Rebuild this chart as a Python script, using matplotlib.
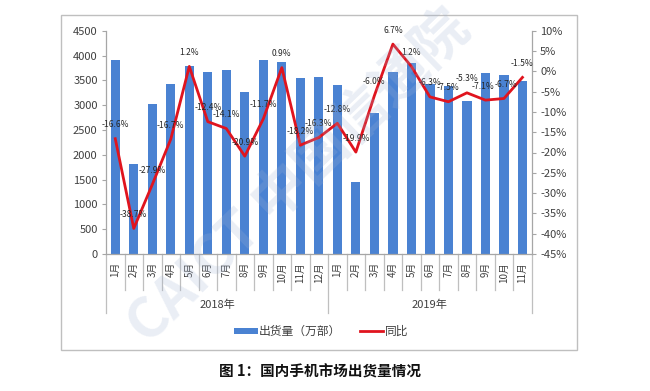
import matplotlib
matplotlib.use("Agg")
import matplotlib.pyplot as plt
from matplotlib.patches import Patch, Rectangle
from matplotlib.lines import Line2D
import matplotlib.transforms as mtransforms

plt.rcParams['font.family'] = ['Noto Sans CJK SC', 'DejaVu Sans']

months = ["1月", "2月", "3月", "4月", "5月", "6月", "7月", "8月", "9月", "10月", "11月", "12月",
          "1月", "2月", "3月", "4月", "5月", "6月", "7月", "8月", "9月", "10月", "11月"]
years = ["2018年", "2019年"]
year_counts = [12, 11]
shipments = [3900, 1810, 3020, 3420, 3790, 3670, 3700, 3270, 3900, 3860, 3540, 3570,
             3410, 1450, 2850, 3660, 3840, 3420, 3390, 3090, 3640, 3600, 3490]
yoy = [-16.6, -38.7, -27.9, -16.7, 1.2, -12.4, -14.1, -20.9, -11.7, 0.9, -18.2, -16.3,
       -12.8, -19.9, -6.0, 6.7, 1.2, -6.3, -7.5, -5.3, -7.1, -6.7, -1.5]
left_ticks = [0, 500, 1000, 1500, 2000, 2500, 3000, 3500, 4000, 4500]
right_ticks = [-45, -40, -35, -30, -25, -20, -15, -10, -5, 0, 5, 10]

bar_color = '#4A82D2'
line_color = '#E0141E'
axis_color = '#A6A6A6'
text_color = '#404040'

fig = plt.figure(figsize=(6.5, 3.91), dpi=100)
fig.patch.set_facecolor('white')

# outer chart frame
fig.patches.append(Rectangle((61/650, 1-350/391), 516/650, 335/391, transform=fig.transFigure,
                             fill=False, edgecolor='#BFBFBF', linewidth=1.0, zorder=0))

ax = fig.add_axes([106/650, 1-254/391, (531.7-106)/650, (254-30.7)/391])
ax2 = ax.twinx()

x = list(range(len(shipments)))
ax.bar(x, shipments, width=0.5, color=bar_color, zorder=2)
ax.set_xlim(-0.5, len(x) - 0.5)
ax.set_ylim(0, 4500)
ax.set_yticks(left_ticks)
ax.set_yticklabels([str(t) for t in left_ticks], fontsize=8, color=text_color)
ax.set_xticks([])

ax2.plot(x, yoy, color=line_color, linewidth=2.0, zorder=3)
ax2.set_ylim(-45, 10)
ax2.set_yticks(right_ticks)
ax2.set_yticklabels([f"{t}%" for t in right_ticks], fontsize=8, color=text_color)
for xi, v in zip(x, yoy):
    dx = -1.5 if xi == 20 else (1.5 if xi == 21 else 0)
    ax2.annotate(f"{v:.1f}%", (xi, v), xytext=(dx, 10), textcoords='offset points',
                 ha='center', va='center', fontsize=6.1, color='#262626', zorder=4)

for a in (ax, ax2):
    a.spines['top'].set_visible(False)
    for s in ('left', 'right', 'bottom'):
        a.spines[s].set_color(axis_color)
        a.spines[s].set_linewidth(0.9)
    a.tick_params(axis='y', length=3, width=0.8, color=axis_color, pad=3)
ax.spines['right'].set_visible(False)
ax2.spines['left'].set_visible(False)
ax2.spines['bottom'].set_visible(False)

# multi-level category axis
trans = mtransforms.blended_transform_factory(ax.transData, ax.transAxes)
axh = 254 - 30.7
month_bottom = -(290 - 254) / axh
year_bottom = -(313 - 254) / axh
boundaries = [-0.5]
acc = -0.5
for c in year_counts:
    acc += c
    boundaries.append(acc)
for i in range(len(x) + 1):
    xb = i - 0.5
    yb = year_bottom if xb in boundaries else month_bottom
    ax.plot([xb, xb], [0, yb], transform=trans, color='#BFBFBF', linewidth=0.9, clip_on=False)
for xi, m in zip(x, months):
    ax.text(xi, -(262 - 254) / axh, m, transform=trans, rotation=90, ha='center', va='top',
            fontsize=7, color=text_color)
start = 0
for yname, c in zip(years, year_counts):
    ax.text(start + (c - 1) / 2, -(305 - 254) / axh, yname, transform=trans, ha='center',
            va='center', fontsize=8, color=text_color)
    start += c

handles = [Patch(facecolor=bar_color, edgecolor='none'),
           Line2D([0], [0], color=line_color, linewidth=2.0)]
fig.legend(handles, ["出货量（万部）", "同比"], loc='center', bbox_to_anchor=(321/650, 1-331.7/391),
           ncol=2, frameon=False, fontsize=8.5, handlelength=2.0, handleheight=0.5,
           columnspacing=1.6, handletextpad=0.1, labelcolor=text_color)

fig.text(320/650, 1-371.7/391, "图 1：国内手机市场出货量情况", ha='center', va='center',
         fontsize=10.5, fontweight='bold', color='#111111')

# faint watermark
fig.text(300/650, 1-178/391, "CAICT 中国信通院", ha='center', va='center', rotation=44,
         fontsize=40, fontweight='bold', color='#9FB2D2', alpha=0.22, zorder=10)

fig.savefig("out.png", dpi=100)
